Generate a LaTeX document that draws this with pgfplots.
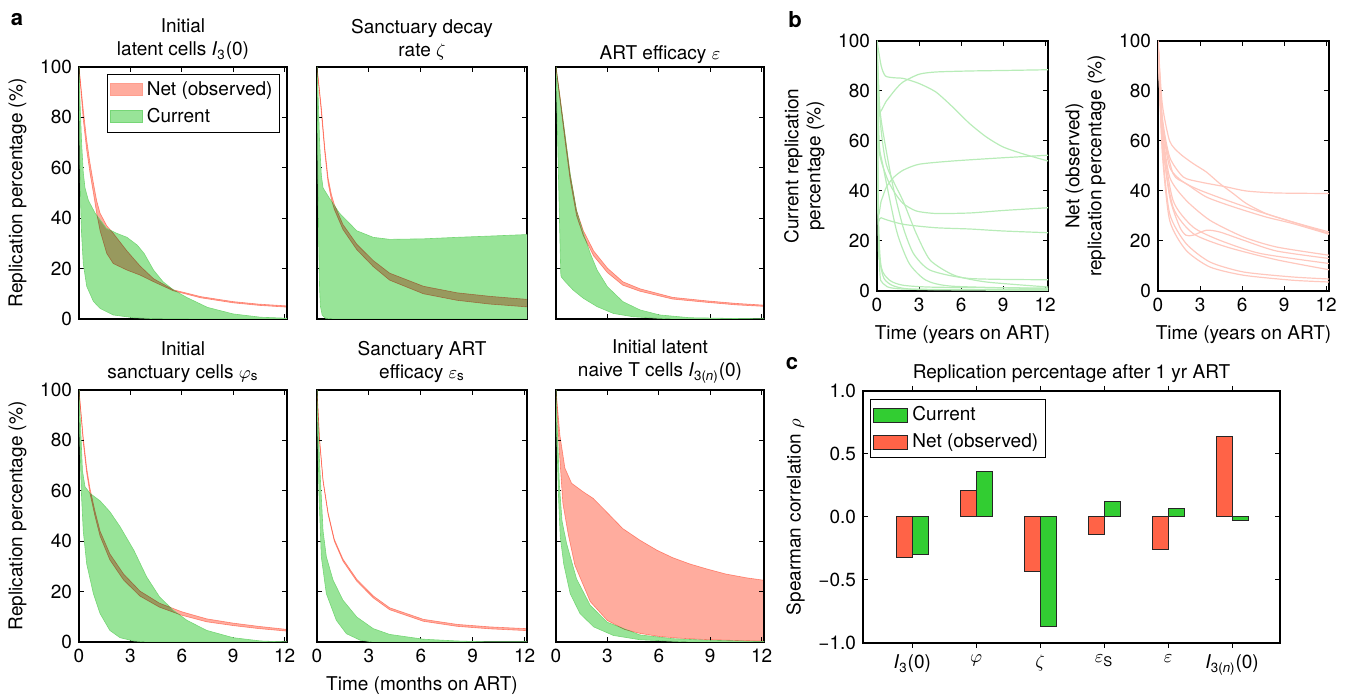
\documentclass[border=0pt]{standalone}
\usepackage{fontspec}
\setmainfont{TeX Gyre Heros}
\usepackage{pgfplots}
\pgfplotsset{compat=1.18}
\usepgfplotslibrary{fillbetween}

\definecolor{gfill}{RGB}{152,228,152}
\definecolor{gedge}{RGB}{118,214,118}
\definecolor{rfill}{RGB}{255,172,158}
\definecolor{redge}{RGB}{255,158,142}
\definecolor{gline}{RGB}{184,236,184}
\definecolor{rline}{RGB}{255,200,190}
\definecolor{cred}{RGB}{255,99,71}
\definecolor{cgreen}{RGB}{50,205,50}
\newcommand\fs{\fontsize{9.5}{11}\selectfont}

% green band: id, upper, lower
\newcommand\gband[3]{%
  \addplot[name path=#1gu, draw=gedge, line width=0.3pt, forget plot] coordinates {#2};
  \addplot[name path=#1gl, draw=gedge, line width=0.3pt, forget plot] coordinates {#3};
  \addplot[fill=gfill, draw=none, forget plot] fill between[of=#1gu and #1gl];
}
\newcommand\rband[3]{%
  \addplot[name path=#1ru, draw=redge, line width=0.3pt, blend mode=multiply, forget plot] coordinates {#2};
  \addplot[name path=#1rl, draw=redge, line width=0.3pt, blend mode=multiply, forget plot] coordinates {#3};
  \addplot[fill=rfill, draw=none, blend mode=multiply, forget plot] fill between[of=#1ru and #1rl];
}

\pgfplotsset{
  base/.style={scale only axis, anchor=south west,
    axis line style={line width=0.7pt}, tick align=inside,
    major tick length=2.5pt, tick style={black, line width=0.5pt},
    ticklabel style={font=\fs}, label style={font=\fs, align=center},
    title style={font=\fs, align=center, yshift=-4.5pt},
    /pgf/number format/assume math mode=true},
  pa/.style={base, width=104pt, height=126pt, xmin=0, xmax=12.14,
    ymin=0, ymax=100, xtick={0,3,6,9,12}, ytick={0,20,...,100},
    title style={font=\fontsize{9.5}{11.5}\selectfont, yshift=-1.5pt}},
  pb/.style={base, width=85.5pt, height=125pt, xmin=0, xmax=12.2,
    ymin=0, ymax=100, xtick={0,3,6,9,12}, ytick={0,20,...,100},
    xlabel={Time (years on ART)}},
  gl/.style={gline, line width=0.6pt, smooth, tension=0.4},
  rl/.style={rline, line width=0.6pt, smooth, tension=0.4},
}

\begin{document}
\begin{tikzpicture}

%% ---------- panel a, top row ----------
\begin{axis}[pa, at={(39.5pt,188pt)}, xticklabels={},
  title={Initial\\latent cells \textit{I}\textsubscript{3}(0)},
  ylabel={Replication percentage (\%)},
  legend image code/.code={\draw[#1] (0pt,-3pt) rectangle (16pt,3pt);},
  legend style={at={(0.966,0.972)}, anchor=north east, draw=black,
    font=\fs, inner sep=1.5pt, row sep=1pt, cells={anchor=west}}]
\gband{a}{(0,100)(0.05,88)(0.15,70)(0.25,58)(0.35,52)(0.55,47)(0.94,42)(1.6,36)(2.2,34)(2.8,32.4)(3.4,29.3)(3.8,26)(4.35,19.4)(4.9,14.8)(5.5,11.6)(6.3,8.5)(7.5,4.6)(9.0,2)(10.6,0.7)(12.14,0.3)}
{(0,100)(0.03,80)(0.06,60)(0.1,45)(0.15,34)(0.25,22)(0.45,13)(0.84,7)(1.23,4.2)(2.0,1.6)(3.2,0.5)(4.5,0.1)(12.14,0)}
\rband{a}{(0,100)(0.25,83)(0.45,71)(0.64,62)(0.84,54)(1.03,47)(1.23,42)(1.62,37)(2.0,34)(2.8,27)(3.57,21)(4.35,16)(5.5,11.6)(7.1,8.9)(9.0,6.9)(10.5,5.9)(12.14,5.2)}
{(0,100)(0.25,79)(0.45,67)(0.64,58)(0.84,50)(1.03,42)(1.23,35)(1.62,26)(2.0,22)(2.8,19.4)(3.57,17.4)(4.35,14.8)(5.5,11.2)(7.1,8.4)(9.0,6.4)(10.5,5.4)(12.14,4.7)}
\addlegendimage{fill=rfill, draw=redge}
\addlegendentry{Net (observed)}
\addlegendimage{fill=gfill, draw=gedge}
\addlegendentry{Current}
\end{axis}

\begin{axis}[pa, at={(158.5pt,188pt)}, width=105pt, xticklabels={}, yticklabels={},
  title={Sanctuary decay\\rate $\zeta$}]
\gband{b}{(0,100)(0.05,92)(0.15,70)(0.25,57)(0.35,52)(0.73,47.8)(1.3,42)(2.3,35)(3.25,32.4)(4.2,31.6)(6.15,31.8)(8.1,32.4)(10,32.9)(12.14,33.5)}
{(0,100)(0.03,75)(0.05,60)(0.1,30)(0.15,12)(0.2,5)(0.3,1.5)(0.5,0.3)(1,0)(12.14,0)}
\rband{b}{(0,100)(0.25,84)(0.45,68)(0.64,56)(0.83,49.5)(1.0,45.5)(1.5,37.5)(2.3,29.7)(3.25,23.2)(4.2,18.2)(6.15,13)(8.1,10.4)(10,9)(12.14,7.8)}
{(0,100)(0.25,82)(0.45,66)(0.64,54)(0.83,47.5)(1.0,43.5)(1.5,35.5)(2.3,27.5)(3.25,20.8)(4.2,15.4)(6.15,10)(8.1,7.4)(10,5.9)(12.14,4.8)}
\end{axis}

\begin{axis}[pa, at={(278pt,188pt)}, xticklabels={}, yticklabels={},
  title={ART efficacy $\varepsilon$}, title style={yshift=-2pt}]
\gband{c}{(0,100)(0.25,87)(0.54,72.5)(0.83,57.5)(1.2,43)(1.6,34)(2.0,26)(2.4,19.4)(3.0,12.8)(3.9,6.9)(4.9,3.6)(6.05,1.6)(7.8,0.5)(12.14,0)}
{(0,100)(0.1,70)(0.2,40)(0.28,18)(0.3,16.8)(0.54,14.8)(1.0,11.5)(1.6,8.2)(2.4,4.9)(3.35,2.2)(4.5,0.9)(5.9,0.3)(7,0)(12.14,0)}
\rband{c}{(0,100)(0.25,87.5)(0.54,72)(0.83,57)(1.2,43)(1.6,35)(2.2,27)(3.0,20.2)(3.9,14.8)(4.9,12)(6.8,8.6)(8.8,7.2)(10.5,6.2)(12.14,5.5)}
{(0,100)(0.25,86)(0.54,70)(0.83,55)(1.2,41)(1.6,33)(2.2,25)(3.0,18.4)(3.9,13.4)(4.9,11)(6.8,7.9)(8.8,6.6)(10.5,5.6)(12.14,5.0)}
\end{axis}

%% ---------- panel a, bottom row ----------
\begin{axis}[pa, at={(39.5pt,26.5pt)},
  title={Initial\\sanctuary cells $\varphi$\textsubscript{s}},
  ylabel={Replication percentage (\%)}]
\gband{d}{(0,100)(0.1,84)(0.2,68)(0.35,61.6)(0.64,59)(1.23,56)(1.8,51.7)(2.4,45.7)(3.2,36.4)(3.95,25.8)(4.7,17.9)(5.5,12.6)(6.3,8.6)(7.45,4.6)(9,1.7)(10.6,0.4)(12.14,0)}
{(0,100)(0.05,80)(0.15,57.6)(0.25,44)(0.45,31)(0.84,19.2)(1.23,11.3)(1.8,4.6)(2.4,1.7)(3.2,0.4)(4,0)(12.14,0)}
\rband{d}{(0,100)(0.25,81)(0.45,69)(0.64,61)(0.93,52)(1.23,44)(1.8,35)(2.6,27)(3.56,20.2)(4.7,15.4)(6.0,12)(7.45,9.2)(9,7.5)(10.5,6.2)(12.14,5.0)}
{(0,100)(0.25,79)(0.45,67)(0.64,59)(0.93,50)(1.23,42)(1.8,32.6)(2.6,24.6)(3.56,18.2)(4.7,13.8)(6.0,10.6)(7.45,8.0)(9,6.5)(10.5,5.3)(12.14,4.3)}
\end{axis}

\begin{axis}[pa, at={(158.5pt,26.5pt)}, width=105pt, yticklabels={},
  title={Sanctuary ART\\efficacy $\varepsilon$\textsubscript{s}},
  xlabel={Time (months on ART)}]
\gband{e}{(0,100)(0.15,70.9)(0.35,44)(0.54,33.8)(0.93,24.5)(1.5,16.6)(2.3,9.9)(3.25,5.3)(4.2,3)(6.15,1.1)(8.1,0.4)(10,0)(12.14,0)}
{(0,100)(0.05,80)(0.12,57.6)(0.25,33.8)(0.54,19.2)(1.12,8.6)(1.7,3.3)(2.5,0.7)(3.25,0)(12.14,0)}
\rband{e}{(0,100)(0.15,80.4)(0.35,64.4)(0.64,51.4)(1.0,40.8)(1.5,32.9)(2.3,24.9)(3.25,18.3)(4.2,13.6)(6.15,9)(8.1,7)(10,6)(12.14,5.3)}
{(0,100)(0.15,79.6)(0.35,63.6)(0.64,50.6)(1.0,40)(1.5,32.1)(2.3,24.1)(3.25,17.5)(4.2,12.8)(6.15,8.2)(8.1,6.2)(10,5.2)(12.14,4.5)}
\end{axis}

\begin{axis}[pa, at={(278pt,26.5pt)}, yticklabels={},
  title={Initial latent\\naive T cells \textit{I}\textsubscript{3(\textit{n})}(0)}]
\gband{f}{(0,100)(0.1,80)(0.2,62)(0.35,48)(0.62,39)(1.2,25)(2.0,14.5)(3.0,7.8)(4.9,2.8)(6.8,1.3)(8.8,0.7)(12.14,0.2)}
{(0,100)(0.05,80)(0.15,57)(0.25,41.7)(0.45,31)(0.83,19.2)(1.4,11.3)(2.2,6)(3.35,2.6)(4.9,0.9)(6.8,0.3)(8,0)(12.14,0)}
\rband{f}{(0,100)(0.23,82)(0.52,69)(0.91,63)(1.59,59.6)(2.17,57)(2.94,51.7)(3.9,45)(4.9,40.4)(5.9,36.4)(6.8,33.5)(7.8,31)(8.8,29)(9.9,27)(11.1,25.5)(12.14,24.5)}
{(0,100)(0.2,75)(0.4,55)(0.72,42.5)(1.1,30.5)(1.59,22.6)(2.0,16)(3.0,8.5)(4.0,5)(4.9,3.4)(6,2.2)(7,1.6)(8,1.2)(9,0.9)(10,0.7)(11,0.5)(12.14,0.4)}
\end{axis}

%% ---------- panel b ----------
\begin{axis}[pb, at={(438.5pt,202pt)},
  ylabel={Current replication\\percentage (\%)}]
\addplot[gl] coordinates {(0,100)(0.3,90)(0.6,86)(1.2,85.3)(1.9,85)(3,83)(4.2,79.6)(5.4,73.6)(6.6,67)(7.8,61.6)(9,57.6)(10.5,54.7)(12.2,52)};
\addplot[gl] coordinates {(0,100)(0.08,72)(0.67,76)(1.3,80.5)(1.86,83.6)(3,86.7)(4.2,87.6)(6.6,88)(9,88.2)(12.2,88.5)};
\addplot[gl] coordinates {(0,100)(0.06,33)(0.3,36)(0.67,41.6)(1.2,45.5)(1.86,48.3)(3,50.7)(5.4,52)(9,53.3)(12.2,54.3)};
\addplot[gl] coordinates {(0,100)(0.1,60)(0.3,52)(0.8,44)(1.3,39)(1.86,35)(2.8,32)(4.2,31)(6.6,31.2)(9,32.2)(12.2,33.3)};
\addplot[gl] coordinates {(0,100)(0.08,32)(0.3,29.3)(1.86,26.7)(4.2,25.3)(6.6,24.8)(9,24)(12.2,23.3)};
\addplot[gl] coordinates {(0,100)(0.2,73)(0.6,58)(1.15,41.6)(1.86,25.6)(2.6,15)(3.8,8.3)(6.6,5)(12.2,4.5)};
\addplot[gl] coordinates {(0,100)(0.2,70)(0.67,50.5)(1.86,36)(2.8,23)(3.8,12.3)(5.5,6.3)(7.8,3.6)(12.2,1.6)};
\addplot[gl] coordinates {(0,100)(0.15,60)(0.43,50)(1.4,24)(2.3,11)(3.5,4.3)(5.4,1.9)(12.2,0.9)};
\addplot[gl] coordinates {(0,100)(0.1,30)(0.3,9.6)(0.9,4.3)(1.86,2.3)(4.2,1.5)(12.2,1.2)};
\addplot[gl] coordinates {(0,100)(0.05,40)(0.2,8)(0.43,3)(1.86,0.8)(12.2,0.5)};
\addplot[gl] coordinates {(0,100)(0.1,20)(0.2,12)(0.5,5)(1.2,2)(3,0.6)(12.2,0.2)};
\end{axis}

\begin{axis}[pb, at={(579pt,202pt)},
  ylabel={Net (observed)\\replication percentage (\%)}]
\addplot[rl] coordinates {(0,100)(0.3,75)(0.83,60)(1.55,55)(2.5,51)(3.45,47.6)(4.4,43)(5.36,39)(6.3,35)(7.7,31)(9.6,27.6)(12.2,23)};
\addplot[rl] coordinates {(0,100)(0.3,70)(0.83,53.6)(1.8,45.6)(3,43.6)(4.9,41.6)(6.3,40)(8.45,39.2)(12.2,39)};
\addplot[rl] coordinates {(0,100)(0.3,68)(0.83,49.6)(1.8,43.6)(3,40.3)(4.9,36.3)(7.3,31.6)(9.6,27.6)(12.2,23.6)};
\addplot[rl] coordinates {(0,100)(0.3,67)(1.07,47)(2,43)(3.45,37.6)(5.4,33.6)(7.7,29.6)(9.6,27)(12.2,22.7)};
\addplot[rl] coordinates {(0,100)(0.3,66)(0.83,45.6)(2,36.3)(3.7,28.3)(6.1,21.6)(8.45,17.6)(12.2,14.3)};
\addplot[rl] coordinates {(0,100)(0.3,62)(0.83,37.6)(1.55,25.6)(2.0,22.3)(2.5,22.3)(3.45,24.3)(4.4,23.6)(6.1,20.3)(8.45,16)(12.2,13)};
\addplot[rl] coordinates {(0,100)(0.3,63)(1.07,36.3)(2.5,25.6)(4.4,20.3)(7.3,15)(12.2,11)};
\addplot[rl] coordinates {(0,100)(0.3,60)(1.07,33.6)(2.5,23)(4.9,17.6)(8.45,12.5)(12.2,8.5)};
\addplot[rl] coordinates {(0,100)(0.3,58)(0.83,31)(2,19)(3.7,11.6)(6.1,7.6)(9.6,5.6)(12.2,4.8)};
\addplot[rl] coordinates {(0,100)(0.3,56)(0.83,28.3)(2,16.3)(3.7,9.6)(6.1,6.3)(9.6,4.3)(12.2,3.6)};
\end{axis}

%% ---------- panel c ----------
\begin{axis}[base, at={(431.5pt,26pt)}, width=208.5pt, height=126pt,
  xmin=-0.77, xmax=5.75, ymin=-1, ymax=1,
  ytick={-1,-0.5,0,0.5,1}, yticklabels={−1.0,−0.5,0.0,0.5,1.0},
  xtick={0,1,2,3,4,5},
  xticklabels={\textit{I}\textsubscript{3}(0), $\varphi$, $\zeta$,
    $\varepsilon$\textsubscript{S}, $\varepsilon$, \textit{I}\textsubscript{3(\textit{n})}(0)},
  title={Replication percentage after 1 yr ART},
  title style={yshift=-1pt},
  ylabel={Spearman correlation $\rho$},
  ybar, bar width=0.25, bar shift=0pt,
  legend image code/.code={\draw[#1] (0pt,-3.5pt) rectangle (17pt,3.5pt);},
  legend style={at={(0.017,0.968)}, anchor=north west, draw=black,
    font=\fs, inner sep=1.5pt, row sep=1pt, cells={anchor=west}}]
\addplot[fill=cgreen, draw=black!85, line width=0.5pt]
  coordinates {(0.125,-0.30)(1.125,0.36)(2.125,-0.87)(3.125,0.12)(4.125,0.07)(5.125,-0.03)};
\addplot[fill=cred, draw=black!85, line width=0.5pt]
  coordinates {(-0.125,-0.32)(0.875,0.21)(1.875,-0.43)(2.875,-0.14)(3.875,-0.26)(4.875,0.64)};
\legend{Current, Net (observed)}
\end{axis}

%% panel letters
\node[font=\bfseries\fontsize{11}{11}\selectfont] at (8.5pt,337.5pt) {a};
\node[font=\bfseries\fontsize{11}{11}\selectfont] at (397.5pt,337.5pt) {b};
\node[font=\bfseries\fontsize{11}{11}\selectfont] at (396pt,165.5pt) {c};

\pgfresetboundingbox
\useasboundingbox (0,0) rectangle (673pt,347.5pt);
\end{tikzpicture}
\end{document}
